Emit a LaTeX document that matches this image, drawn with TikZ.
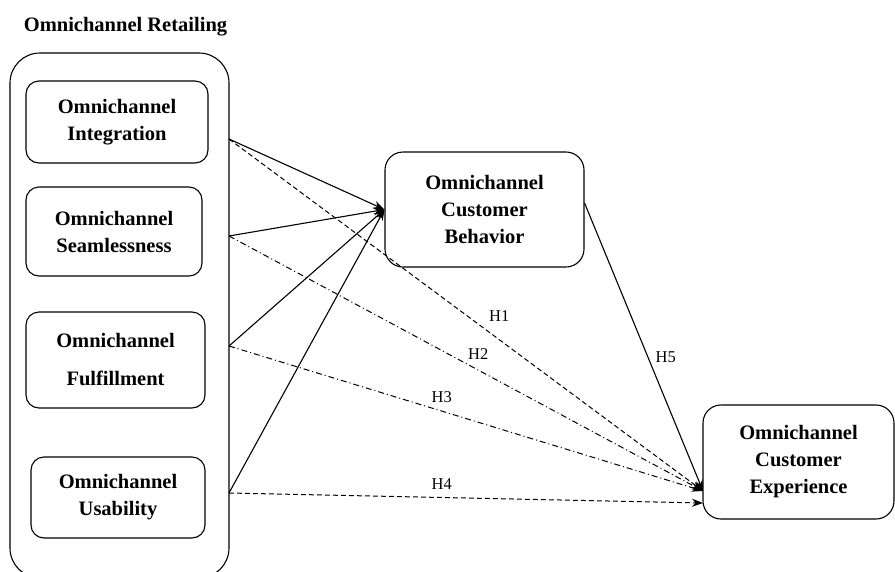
\documentclass[tikz,border=0pt]{standalone}
\usepackage{fontspec}
\setmainfont{Liberation Serif}
\usetikzlibrary{arrows.meta}

\begin{document}
\begin{tikzpicture}[x=1pt, y=-1pt, line width=1.1pt, every node/.style={inner sep=2pt},
  box/.style={draw, rounded corners=13pt, align=center, font=\fontsize{20.5}{27}\selectfont\bfseries},
  tip/.style={-{Stealth[length=11pt, width=8pt]}},
  dashline/.style={dash pattern=on 5pt off 3pt, line width=1pt},
  dotline/.style={dash pattern=on 6pt off 3pt on 1pt off 3pt, line width=1pt},
  hyp/.style={font=\fontsize{16.5}{18}\selectfont}]
\useasboundingbox (0,0) rectangle (895,571);
\node[font=\fontsize{20.5}{24}\selectfont\bfseries] (title) at (125.5,27) {Omnichannel Retailing};
\node[draw, rounded corners=30pt, minimum width=219pt, minimum height=525pt] (OR) at (119.5,315.5) {};
\node[box, minimum width=182pt, minimum height=82pt] (OI) at (117,122) {Omnichannel\\Integration};
\node[box, minimum width=176pt, minimum height=89pt] (OS) at (114,231.5) {Omnichannel\\Seamlessness};
\node[box, minimum width=179pt, minimum height=96pt] (OF) at (115.5,360) {Omnichannel\\[11pt]Fulfillment};
\node[box, minimum width=174pt, minimum height=81pt] (OU) at (118,497.5) {Omnichannel\\Usability};
\node[box, rounded corners=18pt, minimum width=199pt, minimum height=115pt] (CB) at (484.5,209.5) {Omnichannel\\Customer\\Behavior};
\node[box, rounded corners=18pt, minimum width=191pt, minimum height=114pt] (CE) at (798.5,462) {Omnichannel\\Customer\\Experience};

\coordinate (oi) at (229,139);
\coordinate (os) at (229,236);
\coordinate (of) at (229,346);
\coordinate (ou) at (229,493);
\coordinate (ce1) at (703,491);
\coordinate (ce2) at (703,503);

\draw[tip] (oi) -- (CB.west);
\draw[tip] (os) -- (CB.west);
\draw[tip] (of) -- (CB.west);
\draw[tip] (ou) -- (CB.west);
\draw[tip, dashline] (oi) -- node[hyp, pos=.57, above=16pt] {H1} (ce1);
\draw[tip, dotline] (os) -- node[hyp, pos=.526, above=8.5pt] {H2} (ce1);
\draw[tip, dotline] (of) -- node[hyp, pos=.449, above=5.5pt] {H3} (ce1);
\draw[tip, dashline] (ou) -- node[hyp, pos=.449, above=5.5pt] {H4} (ce2);
\draw[tip] ([yshift=6.5pt]CB.east) -- node[hyp, pos=.536, right=5pt] {H5} (ce1);
\end{tikzpicture}
\end{document}
